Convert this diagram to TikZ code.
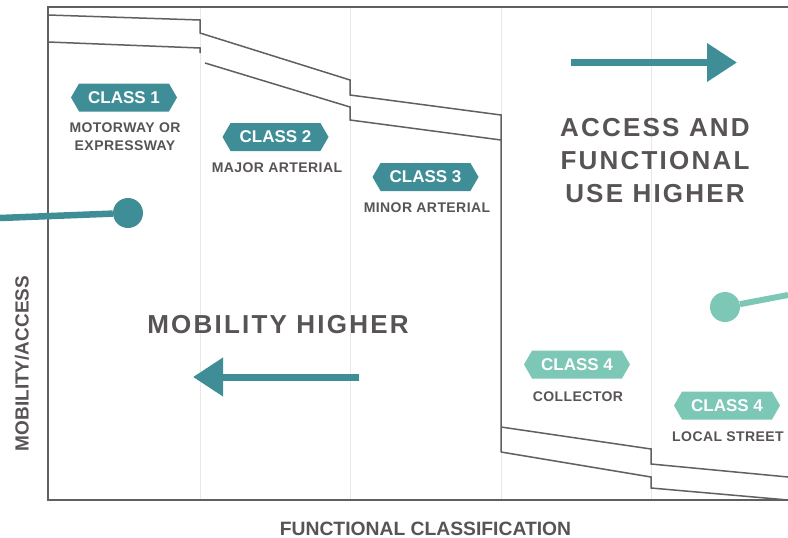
\documentclass[tikz,border=0pt]{standalone}
\usepackage{fontspec}
\setmainfont{Liberation Sans}
\usetikzlibrary{arrows.meta,shapes.symbols}
\definecolor{tealdk}{RGB}{63,142,151}
\definecolor{teallt}{RGB}{124,199,181}
\definecolor{tgray}{RGB}{88,84,84}
\definecolor{lgray}{RGB}{96,96,96}
\definecolor{gridc}{RGB}{232,232,232}
\begin{document}
\begin{tikzpicture}[x=1pt,y=-1pt,
 badge/.style={signal, signal to=east and west, signal pointer angle=120, minimum width=106pt, minimum height=28pt, inner sep=0pt, text=white, font=\fontsize{17}{17}\bfseries},
 dkbadge/.style={badge, fill=tealdk},
 ltbadge/.style={badge, fill=teallt},
 sub/.style={text=tgray, font=\fontsize{14}{17.5}\bfseries\addfontfeature{LetterSpace=3}, align=center, inner sep=0pt},
 big/.style={text=tgray, font=\fontsize{26}{33}\bfseries\addfontfeature{LetterSpace=8.5}, align=center, inner sep=0pt},
 axislabel/.style={text=tgray, font=\fontsize{19.3}{19.3}\bfseries, inner sep=0pt},
 road/.style={draw=lgray, line width=1.5pt},
 framel/.style={draw=lgray, line width=2.2pt},
 gridline/.style={draw=gridc, line width=1pt},
 bigarrow/.style={line width=7pt, -{Triangle[length=30pt,width=37pt]}},
 dotnode/.style={circle, minimum size=30pt, inner sep=0pt}
]
\fill[white] (0,0) rectangle (788,538);
\useasboundingbox (0,0) rectangle (788,538);
% grid
\foreach \x in {200,350,501,651} \draw[gridline] (\x,7) -- (\x,500);
% frame
\draw[framel] (788,7) -- (48,7) -- (48,500) -- (788,500);
% roads
\draw[road] (48,15) -- (200,20) -- (200,33) -- (350,80) -- (350,95) -- (501,115) -- (501,452);
\draw[road] (48,42) -- (200,48) -- (200,53);
\draw[road] (205,63) -- (350,107) -- (350,120) -- (501,140);
\draw[road] (501,427) -- (651,449) -- (651,464) -- (788,477);
\draw[road] (501,452) -- (651,477) -- (651,488) -- (788,500);
% dots
\node[dotnode, fill=tealdk] (d1) at (128,213) {};
\coordinate (d1e) at (0,218);
\draw[tealdk, line width=6.5pt] (d1e) -- (d1);
\node[dotnode, fill=teallt] (d2) at (725,307) {};
\coordinate (d2e) at (788,295);
\draw[teallt, line width=6pt] (d2) -- (d2e);
% arrows
\coordinate (a1s) at (571,62.5);
\coordinate (a1e) at (737,62.5);
\draw[bigarrow, tealdk] (a1s) -- (a1e);
\coordinate (a2s) at (359,377);
\coordinate (a2e) at (193,377);
\draw[bigarrow, tealdk] (a2s) -- (a2e);
% badges and labels
\node[dkbadge] (c1) at (124,97.5) {CLASS 1};
\node[sub] (t1) at (125,136.6) {MOTORWAY OR\\EXPRESSWAY};
\node[dkbadge] (c2) at (275.5,137) {CLASS 2};
\node[sub] (t2) at (277,168) {MAJOR ARTERIAL};
\node[dkbadge] (c3) at (425.5,177) {CLASS 3};
\node[sub] (t3) at (427,208) {MINOR ARTERIAL};
\node[ltbadge] (c4) at (577,364.5) {CLASS 4};
\node[sub] (t4) at (578,397) {COLLECTOR};
\node[ltbadge] (c5) at (727,405.5) {CLASS 4};
\node[sub] (t5) at (728,437) {LOCAL STREET};
% big texts
\node[big] (acc) at (655,160.5) {ACCESS AND\\FUNCTIONAL\\USE HIGHER};
\node[big] (mob) at (278,324.5) {MOBILITY HIGHER};
% axis labels
\node[axislabel] (xl) at (425.5,528.5) {FUNCTIONAL CLASSIFICATION};
\node[axislabel, font=\fontsize{19}{19}\bfseries, rotate=90] (yl) at (22,363.5) {MOBILITY/ACCESS};
\end{tikzpicture}
\end{document}
